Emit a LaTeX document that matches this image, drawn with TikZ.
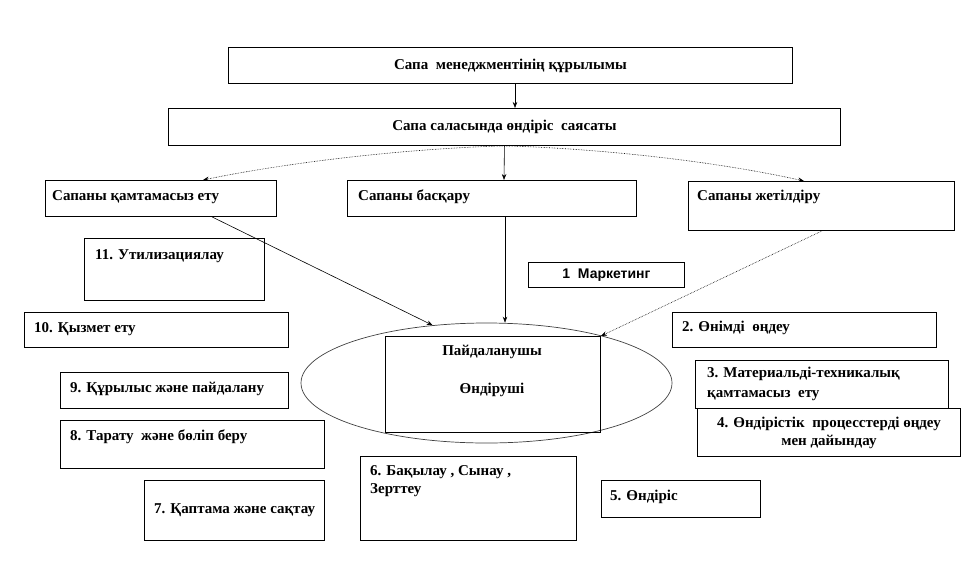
\documentclass[tikz,border=0pt]{standalone}
\usepackage{fontspec}
\setmainfont{Liberation Serif}
\newfontfamily\arialfont{Liberation Sans}
\usetikzlibrary{shapes.geometric,arrows.meta,calc}
\begin{document}
\begin{tikzpicture}[x=1pt,y=-1pt,
  box/.style={draw,line width=0.9pt,inner sep=0pt,anchor=north west},
  txt/.style={inner sep=0pt,font=\fontsize{15}{19.5}\selectfont\bfseries,anchor=west,align=left},
  arr/.style={-{Stealth[length=6pt,width=4.5pt]},line width=0.6pt},
  dotarr/.style={arr,densely dotted}]
\useasboundingbox (0,0) rectangle (963,576);
% boxes
\node[box,minimum width=564pt,minimum height=36pt] (b1) at (228,47) {};
\node[box,minimum width=672pt,minimum height=37pt] (b2) at (168,108) {};
\node[box,minimum width=231pt,minimum height=36pt] (L) at (45,180) {};
\node[box,minimum width=289pt,minimum height=36pt] (M) at (347,180) {};
\node[box,minimum width=266pt,minimum height=49pt] (R) at (688,181) {};
\node[box,minimum width=180pt,minimum height=62pt] (b11) at (84,238) {};
\node[box,minimum width=156pt,minimum height=25pt] (mk) at (528,262) {};
\node[box,minimum width=264pt,minimum height=35pt] (b10) at (24,312) {};
\node[box,minimum width=264pt,minimum height=35pt] (b2i) at (672,312) {};
\node[box,minimum width=253pt,minimum height=48pt] (b3) at (695,360) {};
\node[box,minimum width=263pt,minimum height=48pt] (b4) at (697,408) {};
\node[box,minimum width=228pt,minimum height=36pt] (b9) at (60,372) {};
\node[box,minimum width=264pt,minimum height=48pt] (b8) at (60,420) {};
\node[box,minimum width=180pt,minimum height=60pt] (b7) at (144,480) {};
\node[box,minimum width=216pt,minimum height=84pt] (b6) at (360,456) {};
\node[box,minimum width=159pt,minimum height=37pt] (b5) at (601,480) {};
% ellipse and inner rectangle
\node[ellipse,draw=black!75,line width=0.7pt,minimum width=371pt,minimum height=120pt,inner sep=0pt] (E) at (486.5,383) {};
\node[box,minimum width=215pt,minimum height=96pt] (P) at (385,336) {};
% texts
\node[txt,anchor=center] (t1) at (b1.center) {Сапа\ \ менеджментінің құрылымы};
\node[txt,anchor=center] (t2) at (b2.center) {Сапа саласында өндіріс\ \ саясаты};
\node[txt] (tL) at (52,197) {Сапаны қамтамасыз ету};
\node[txt] (tM) at (358,197) {Сапаны басқару};
\node[txt] (tR) at (697,197) {Сапаны жетілдіру};
\node[txt] (t11) at (95,256) {11. Утилизациялау};
\node[inner sep=0pt,font=\arialfont\fontsize{14}{16}\selectfont\bfseries] (tmk) at (mk.center) {1\ \ Маркетинг};
\node[txt] (t10) at (34,329) {10. Қызмет ету};
\node[txt] (t2i) at (682,328) {2. Өнімді\ \ өңдеу};
\node[txt] (t3) at (707,384) {3. Материальді-техникалық\\қамтамасыз\ \ ету};
\node[txt,align=center,anchor=center,font=\fontsize{15}{18}\selectfont\bfseries] (t4) at (b4.center) {4. Өндірістік\ \ процесстерді өңдеу\\мен дайындау};
\node[txt] (t9) at (70,389) {9. Құрылыс және пайдалану};
\node[txt] (t8) at (70,437) {8. Тарату\ \ және бөліп беру};
\node[txt] (t7) at (154,510) {7. Қаптама және сақтау};
\node[txt,font=\fontsize{15}{18}\selectfont\bfseries] (t6) at (370,481) {6. Бақылау , Сынау ,\\Зерттеу};
\node[txt] (t5) at (610,497) {5. Өндіріс};
\node[txt,anchor=center] (tP1) at (492,352) {Пайдаланушы};
\node[txt,anchor=center] (tP2) at (492,390) {Өндіруші};
% connectors
\coordinate (mstart) at ($(M.south west)+(158,0)$);
\draw[arr] ($(b1.south west)+(287,0)$) -- ($(b2.north west)+(347,0)$);
\draw[arr] (b2.south) -- ($(M.north west)+(157,0)$);
\draw[dotarr] (b2.south) .. controls (420,148) and (300,160) .. ($(L.north west)+(158,0)$);
\draw[dotarr] (b2.south) .. controls (590,148) and (710,160) .. ($(R.north west)+(116,0)$);
\draw[arr] ($(L.south west)+(167,0)$) -- (E.133.5);
\draw[arr] (mstart) -- (mstart |- E.north);
\draw[dotarr] ($(R.south west)+(134,0)$) -- (P.north east);
\end{tikzpicture}
\end{document}
